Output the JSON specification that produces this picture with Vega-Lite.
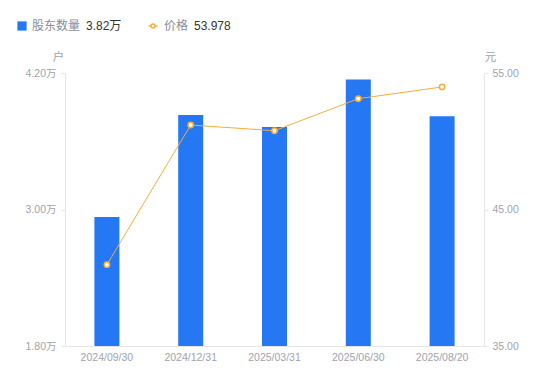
{
  "$schema": "https://vega.github.io/schema/vega-lite/v6.json",
  "width": 419,
  "height": 273,
  "autosize": {"type": "none"},
  "padding": {"left": 65, "top": 73, "right": 66, "bottom": 35},
  "config": {
    "font": "Liberation Sans, Noto Sans CJK SC, sans-serif",
    "view": {"stroke": null}
  },
  "data": {
    "values": [
      {"date": "2024/09/30", "holders": 2.934, "price": 40.96},
      {"date": "2024/12/31", "holders": 3.831, "price": 51.19},
      {"date": "2025/03/31", "holders": 3.725, "price": 50.77},
      {"date": "2025/06/30", "holders": 4.143, "price": 53.12},
      {"date": "2025/08/20", "holders": 3.82, "price": 53.978}
    ]
  },
  "encoding": {
    "x": {
      "field": "date",
      "type": "ordinal",
      "sort": null,
      "scale": {"paddingInner": 0, "paddingOuter": 0},
      "axis": {
        "title": null,
        "labelAngle": 0,
        "ticks": false,
        "domainColor": "#e6e6e6",
        "labelColor": "#a0a3ad",
        "labelFontSize": 10.5,
        "labelPadding": 6
      }
    }
  },
  "layer": [
    {
      "mark": {"type": "bar", "size": 25, "clip": true},
      "encoding": {
        "y": {
          "field": "holders",
          "type": "quantitative",
          "scale": {"domain": [1.8, 4.2], "zero": false, "nice": false},
          "axis": {
            "orient": "left",
            "values": [1.8, 3.0, 4.2],
            "labelExpr": "format(datum.value, '.2f') + '万'",
            "grid": false,
            "domainColor": "#e6e6e6",
            "tickColor": "#e6e6e6",
            "tickSize": 4,
            "labelPadding": 5,
            "labelColor": "#a0a3ad",
            "labelFontSize": 10.5,
            "title": "户",
            "titleAngle": 0,
            "titleX": -7,
            "titleY": -16,
            "titleAlign": "center",
            "titleBaseline": "middle",
            "titleColor": "#a0a3ad",
            "titleFontWeight": "normal",
            "titleFontSize": 11.5
          }
        },
        "fill": {
          "datum": "股东数量",
          "scale": {"range": ["#2577F3"]},
          "legend": {
            "orient": "none",
            "legendX": -49,
            "legendY": -53,
            "symbolType": "square",
            "symbolSize": 85,
            "labelFontSize": 12,
            "labelColor": "#8a8d99",
            "labelOffset": 4,
            "title": "3.82万",
            "titleOrient": "right",
            "titleColor": "#333333",
            "titleFontSize": 12,
            "titleFontWeight": "normal",
            "titlePadding": 6,
            "titleBaseline": "middle"
          }
        }
      }
    },
    {
      "encoding": {
        "y": {
          "field": "price",
          "type": "quantitative",
          "scale": {"domain": [35, 55], "zero": false, "nice": false},
          "axis": {
            "orient": "right",
            "values": [35, 45, 55],
            "format": ".2f",
            "grid": false,
            "domainColor": "#e6e6e6",
            "tickColor": "#e6e6e6",
            "tickSize": 4,
            "labelPadding": 4,
            "labelColor": "#a0a3ad",
            "labelFontSize": 10.5,
            "title": "元",
            "titleAngle": 0,
            "titleX": 6,
            "titleY": -16,
            "titleAlign": "center",
            "titleBaseline": "middle",
            "titleColor": "#a0a3ad",
            "titleFontWeight": "normal",
            "titleFontSize": 11.5
          }
        },
        "stroke": {
          "datum": "价格",
          "scale": {"range": ["#F6AD3C"]},
          "legend": {
            "orient": "none",
            "legendX": 82,
            "legendY": -53,
            "symbolType": "M-1,0H-0.45M0.45,0H1M0.45,0A0.45,0.45 0 1,1 -0.45,0A0.45,0.45 0 1,1 0.45,0",
            "symbolSize": 80,
            "symbolStrokeWidth": 1.5,
            "symbolFillColor": "white",
            "labelFontSize": 12,
            "labelColor": "#8a8d99",
            "labelOffset": 5,
            "title": "53.978",
            "titleOrient": "right",
            "titleColor": "#333333",
            "titleFontSize": 12,
            "titleFontWeight": "normal",
            "titlePadding": 6,
            "titleBaseline": "middle"
          }
        }
      },
      "layer": [
        {"mark": {"type": "line", "strokeWidth": 1}},
        {"mark": {"type": "point", "filled": false, "fill": "white", "fillOpacity": 1, "size": 28, "strokeWidth": 1.5, "opacity": 1}}
      ]
    }
  ],
  "resolve": {"scale": {"y": "independent"}}
}
